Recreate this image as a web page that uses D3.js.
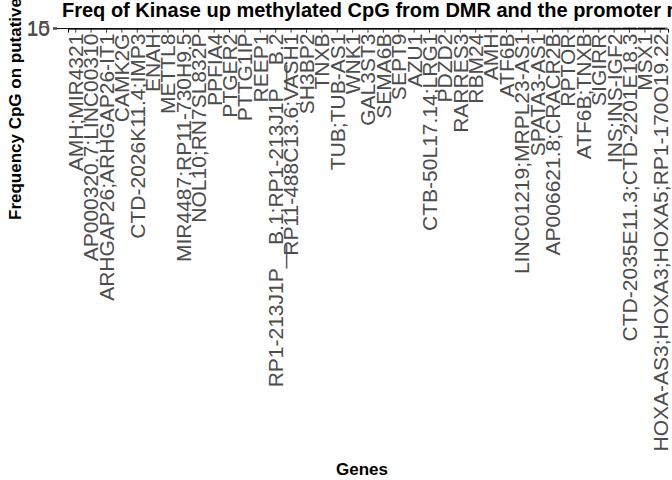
<!DOCTYPE html>
<html><head><meta charset="utf-8">
<script src="https://cdn.jsdelivr.net/npm/d3@7"></script>
<style>body{margin:0;background:#fff}</style>
</head><body>
<svg id="c" width="672" height="480"></svg>
<script>
// genes on x, frequency on y (plot panel is squashed by the long labels)
var genes = ["AMH;MIR4321","AP000320.7;LINC00310","ARHGAP26;ARHGAP26-IT1","CAMK2G","CTD-2026K11.4;IMP3","ENAH","METTL8","MIR4487;RP11-730H9.5","NOL10;RN7SL832P","PPFIA4","PTGER2","PTTG1IP","REEP1","RP1-213J1P__B.1;RP1-213J1P__B.2","RP11-488C13.6;VASH1","SH3BP2","TNXB","TUB;TUB-AS1","WNK1","GAL3ST3","SEMA6B","SEPT9","AZU1","CTB-50L17.14;LRG1","PDZD2","RARRES3","RBM24","AMH","ATF6B","LINC01219;MRPL23-AS1","SPATA3-AS1","AP006621.8;CRACR2B","RPTOR","ATF6B;TNXB","SIGIRR","INS;INS-IGF2","CTD-2035E11.3;CTD-2201E18.3","MSX1","HOXA-AS3;HOXA3;HOXA5;RP1-170O19.22"];
var freq = [10,10,10,10,10,10,10,10,10,11,11,11,11,11,11,11,11,11,11,12,12,12,12,12,12,12,12,13,13,13,13,13,14,14,14,14,15,15,15];
var yTicks = [10,15];

var svg = d3.select("#c");
var x = d3.scaleBand().domain(genes).range([68,668]);
var y = d3.scaleLinear().domain([9.75,15.25]).range([28.6,27.4]);

svg.selectAll("rect.bar").data(genes).enter().append("rect")
  .attr("x", function(d){return x(d)+x.bandwidth()*0.05;})
  .attr("width", x.bandwidth()*0.9)
  .attr("y", function(d,i){return y(freq[i]);})
  .attr("height", function(d,i){return y(9.75)-y(freq[i]);})
  .attr("fill","#595959");

var xa = svg.append("g").attr("transform","translate(0,28.6)")
  .call(d3.axisBottom(x).tickSizeOuter(0).tickSize(4));
xa.select(".domain").attr("stroke","#000");
xa.selectAll(".tick line").attr("stroke","#333");
xa.selectAll("text").attr("fill","#4d4d4d").style("font-family","Liberation Sans, Arial")
  .style("font-size","21px")
  .attr("transform","rotate(-90)").attr("text-anchor","end")
  .attr("x",-5).attr("y",0).attr("dy","0.35em");

var ya = svg.append("g").attr("transform","translate(57,0)")
  .call(d3.axisLeft(y).tickValues(yTicks).tickFormat(d3.format("d")).tickSize(4));
ya.select(".domain").remove();
ya.selectAll("text").attr("fill","#4d4d4d").style("font-family","Liberation Sans, Arial").style("font-size","21px");

svg.append("line").attr("x1",57).attr("x2",665).attr("y1",28.6).attr("y2",28.6).attr("stroke","#000");

svg.append("text").attr("x",62).attr("y",17)
  .style("font-family","Liberation Sans, Arial").style("font-weight","bold").style("font-size","20px")
  .text("Freq of Kinase up methylated CpG from DMR and the promoter region");
svg.append("text").attr("x",362).attr("y",475).attr("text-anchor","middle")
  .style("font-family","Liberation Sans, Arial").style("font-weight","bold").style("font-size","17px")
  .text("Genes");
svg.append("text").attr("transform","translate(21,220) rotate(-90)")
  .style("font-family","Liberation Sans, Arial").style("font-weight","bold").style("font-size","17px")
  .text("Frequency CpG on putative promoter");
</script>
</body></html>
